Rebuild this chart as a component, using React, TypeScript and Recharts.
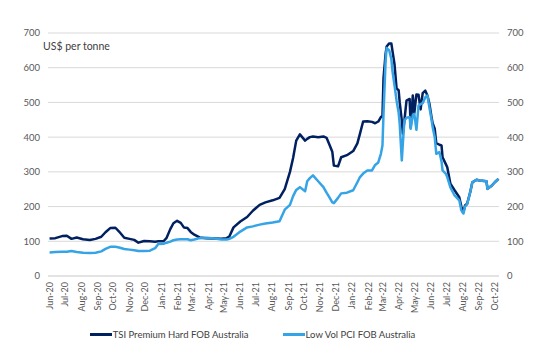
import React from 'react';
import { LineChart, Line, XAxis, YAxis, CartesianGrid, Legend } from 'recharts';

const FONT = 'Lato, "Open Sans", sans-serif';
const TSI_COLOR = '#002060';
const PCI_COLOR = '#35A4E6';

// sample dates (roughly weekly, denser around the Mar-22 spike)
const dates = [
  '2020-06-01', '2020-06-12', '2020-06-25', '2020-07-04', '2020-07-13', '2020-07-23', '2020-08-04', '2020-08-17',
  '2020-08-28', '2020-09-08', '2020-09-16', '2020-09-25', '2020-10-05', '2020-10-12', '2020-10-22', '2020-11-01',
  '2020-11-10', '2020-11-18', '2020-11-29', '2020-12-10', '2020-12-20', '2020-12-26', '2021-01-05', '2021-01-11',
  '2021-01-18', '2021-01-24', '2021-01-31', '2021-02-07', '2021-02-13', '2021-02-20', '2021-02-26', '2021-03-05',
  '2021-03-15', '2021-03-28', '2021-04-13', '2021-04-26', '2021-05-06', '2021-05-11', '2021-05-19', '2021-06-01',
  '2021-06-14', '2021-06-25', '2021-07-08', '2021-07-19', '2021-08-02', '2021-08-15', '2021-08-25', '2021-09-04',
  '2021-09-10', '2021-09-16', '2021-09-23', '2021-10-03', '2021-10-07', '2021-10-12', '2021-10-18', '2021-10-28',
  '2021-11-07', '2021-11-13', '2021-11-18', '2021-11-24', '2021-11-27', '2021-12-05', '2021-12-11', '2021-12-22',
  '2022-01-03', '2022-01-11', '2022-01-16', '2022-01-22', '2022-01-30', '2022-02-08', '2022-02-14', '2022-02-20',
  '2022-02-25', '2022-02-28', '2022-03-02', '2022-03-06', '2022-03-08', '2022-03-13', '2022-03-17', '2022-03-19',
  '2022-03-23', '2022-03-27', '2022-03-31', '2022-04-02', '2022-04-06', '2022-04-08', '2022-04-11', '2022-04-15',
  '2022-04-21', '2022-04-23', '2022-04-27', '2022-04-30', '2022-05-04', '2022-05-08', '2022-05-12', '2022-05-16',
  '2022-05-21', '2022-05-25', '2022-05-29', '2022-06-02', '2022-06-04', '2022-06-08', '2022-06-11', '2022-06-17',
  '2022-06-21', '2022-06-23', '2022-06-29', '2022-07-02', '2022-07-08', '2022-07-16', '2022-07-25', '2022-07-29',
  '2022-07-31', '2022-08-02', '2022-08-05', '2022-08-09', '2022-08-15', '2022-08-19', '2022-08-27', '2022-09-02',
  '2022-09-15', '2022-09-17', '2022-09-25', '2022-10-01', '2022-10-08',
];

const tsiHard = [
  108, 109, 115, 116, 107, 111, 106, 104,
  107, 113, 126, 138, 139, 128, 110, 107,
  104, 96, 101, 100, 99, 100, 100, 110,
  135, 152, 159, 153, 140, 138, 127, 119,
  111, 109, 108, 107, 109, 114, 140, 157,
  170, 188, 205, 212, 218, 225, 250, 300,
  340, 390, 408, 390, 395, 400, 402, 400,
  402, 398, 380, 358, 318, 316, 342, 348,
  360, 382, 410, 445, 446, 444, 440, 445,
  458, 460, 570, 640, 661, 670, 670, 650,
  611, 540, 535, 500, 448, 410, 448, 505,
  510, 428, 520, 470, 523, 522, 480, 527,
  534, 520, 495, 457, 440, 424, 383, 378,
  376, 342, 323, 313, 266, 247, 227, 200,
  189, 184, 203, 208, 242, 270, 277, 275,
  273, 251, 260, 270, 280,
];

const lowVolPci = [
  68, 69, 70, 70, 72, 69, 67, 66,
  67, 71, 78, 84, 84, 82, 78, 76,
  74, 72, 72, 73, 80, 92, 93, 96,
  99, 103, 105, 106, 106, 106, 103, 105,
  109, 110, 108, 105, 105, 107, 113, 128,
  140, 143, 148, 151, 154, 158, 191, 205,
  230, 248, 256, 244, 273, 282, 290, 273,
  256, 240, 228, 212, 210, 225, 238, 240,
  247, 270, 285, 295, 304, 304, 320, 327,
  352, 376, 467, 620, 657, 650, 625, 592,
  550, 505, 470, 438, 333, 381, 448, 456,
  458, 424, 463, 467, 421, 491, 495, 498,
  515, 520, 484, 450, 429, 400, 352, 357,
  330, 304, 295, 285, 255, 232, 218, 189,
  184, 180, 200, 206, 242, 270, 277, 275,
  273, 251, 260, 270, 280,
];

const monthLabels = [
  'Jun-20', 'Jul-20', 'Aug-20', 'Sep-20', 'Oct-20', 'Nov-20', 'Dec-20', 'Jan-21', 'Feb-21', 'Mar-21',
  'Apr-21', 'May-21', 'Jun-21', 'Jul-21', 'Aug-21', 'Sep-21', 'Oct-21', 'Nov-21', 'Dec-21', 'Jan-22',
  'Feb-22', 'Mar-22', 'Apr-22', 'May-22', 'Jun-22', 'Jul-22', 'Aug-22', 'Sep-22', 'Oct-22',
];

const yTicks = [0, 100, 200, 300, 400, 500, 600, 700];

const seriesNames = ['TSI Premium Hard FOB Australia', 'Low Vol PCI FOB Australia'];

const toTs = (d: string) => Date.parse(d + 'T00:00:00Z');

const data = dates.map((d, i) => ({ t: toTs(d), tsi: tsiHard[i], pci: lowVolPci[i] }));

// month starts, Jun-20 onwards
const monthTicks = monthLabels.map((_, i) => Date.UTC(2020, 5 + i, 1));
const labelFor = (ts: number) => monthLabels[monthTicks.indexOf(ts)] ?? '';

const MonthTick = (props: any) => {
  const { x, y, payload } = props;
  return (
    <g transform={`translate(${x},${y})`}>
      <text transform="rotate(-90)" textAnchor="end" dy="0.35em" fontSize={9} fill="#595959" fontFamily={FONT}>
        {labelFor(payload.value)}
      </text>
    </g>
  );
};

const UnitLabel = (props: any) => {
  const { viewBox } = props;
  return (
    <text x={viewBox.x + 43} y={viewBox.y + 17} fontSize={10.5} fill="#404040" fontFamily={FONT}>
      US$ per tonne
    </text>
  );
};

const LegendContent = () => (
  <div
    style={{
      display: 'flex',
      justifyContent: 'center',
      gap: 34,
      paddingRight: 50,
      fontFamily: FONT,
      fontSize: 9.5,
      color: '#404040',
    }}
  >
    {seriesNames.map((name, i) => (
      <div key={name} style={{ display: 'flex', alignItems: 'center' }}>
        <span style={{ display: 'inline-block', width: 22, height: 3, background: i === 0 ? TSI_COLOR : PCI_COLOR, marginRight: 1 }} />
        {name}
      </div>
    ))}
  </div>
);

export default function App() {
  const tickStyle = { fontSize: 9.5, fill: '#595959', fontFamily: FONT };
  return (
    <div style={{ width: 555, height: 355, background: '#fff' }}>
      <style>{'body{margin:0}'}</style>
      <LineChart width={555} height={355} data={data} margin={{ top: 33, right: 0, bottom: 0, left: 0 }}>
        <CartesianGrid vertical={false} yAxisId="left" stroke="#D9D9D9" />
        <XAxis
          dataKey="t"
          type="number"
          scale="time"
          domain={[Date.UTC(2020, 4, 29), Date.UTC(2022, 9, 9)]}
          ticks={monthTicks}
          tick={<MonthTick />}
          interval={0}
          height={79}
          tickLine={false}
          tickSize={6}
          tickMargin={0}
          axisLine={{ stroke: '#D9D9D9' }}
        />
        <YAxis
          yAxisId="left"
          domain={[0, 700]}
          ticks={yTicks}
          width={48}
          axisLine={false}
          tickLine={false}
          tick={tickStyle}
          label={{ content: UnitLabel }}
        />
        <YAxis
          yAxisId="right"
          orientation="right"
          domain={[0, 700]}
          ticks={yTicks}
          width={56}
          axisLine={false}
          tickLine={false}
          tick={tickStyle}
        />
        <Line
          yAxisId="left"
          type="linear"
          dataKey="tsi"
          name={seriesNames[0]}
          stroke={TSI_COLOR}
          strokeWidth={2.5}
          dot={false}
          strokeLinejoin="round"
          isAnimationActive={false}
        />
        <Line
          yAxisId="right"
          type="linear"
          dataKey="pci"
          name={seriesNames[1]}
          stroke={PCI_COLOR}
          strokeWidth={2.5}
          dot={false}
          strokeLinejoin="round"
          isAnimationActive={false}
        />
        <Legend
          content={LegendContent}
          wrapperStyle={{ position: 'absolute', top: 329, left: 0, width: 555, height: 0 }}
        />
      </LineChart>
    </div>
  );
}
